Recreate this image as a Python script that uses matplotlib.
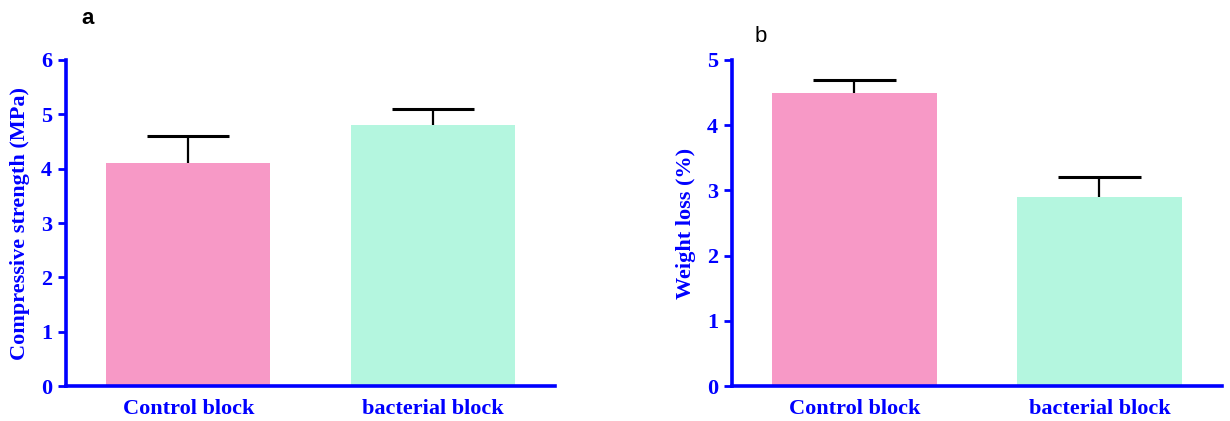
import matplotlib
matplotlib.use("Agg")
import matplotlib.pyplot as plt

categories = ["Control block", "bacterial block"]
strength_mean = [4.1, 4.8]
strength_err = [0.5, 0.3]
loss_mean = [4.5, 2.9]
loss_err = [0.2, 0.3]
bar_colors = ["#F799C6", "#B4F6DF"]

BLUE = "#0000FF"
serif = ["Liberation Serif", "DejaVu Serif"]
BAR_W = 0.67

fig = plt.figure(figsize=(12.3, 4.21), dpi=100)
ax_a = fig.add_axes([0.0537, 0.0831, 0.3976, 0.7744])
ax_b = fig.add_axes([0.5951, 0.0831, 0.3984, 0.7744])


def draw_panel(ax, means, errs, ymax, ylabel):
    x = list(range(len(categories)))
    ax.bar(x, means, width=BAR_W, color=bar_colors, zorder=2)
    # upper-only error bars: stem from bar top, cap half the bar width
    tops = [m + e for m, e in zip(means, errs)]
    ax.vlines(x, means, tops, color="black", linewidth=1.6, zorder=1)
    ax.hlines(tops, [xi - BAR_W / 4 for xi in x], [xi + BAR_W / 4 for xi in x],
              color="black", linewidth=2.2, zorder=1)
    ax.set_xlim(-0.5, 1.5)
    ax.set_ylim(0, ymax)
    ax.set_yticks(range(0, ymax + 1))
    ax.set_xticks(x)
    ax.set_xticklabels(categories)
    for side in ("top", "right"):
        ax.spines[side].set_visible(False)
    for side in ("left", "bottom"):
        ax.spines[side].set_color(BLUE)
        ax.spines[side].set_linewidth(2.6)
    ax.tick_params(axis="y", direction="out", length=6, width=2, color=BLUE,
                   labelcolor=BLUE, pad=4)
    ax.tick_params(axis="x", length=0, labelcolor=BLUE, pad=9)
    for lab in ax.get_yticklabels() + ax.get_xticklabels():
        lab.set_family(serif)
        lab.set_fontweight("bold")
        lab.set_fontsize(16)
    ax.set_ylabel(ylabel, family=serif, fontweight="bold", fontsize=16,
                  color=BLUE, labelpad=8)


draw_panel(ax_a, strength_mean, strength_err, 6, "Compressive strength (MPa)")
draw_panel(ax_b, loss_mean, loss_err, 5, "Weight loss (%)")

fig.text(88 / 1230, 1 - 19 / 421, "a", fontsize=16, fontweight="bold",
         family="Liberation Sans", ha="center", va="center")
fig.text(761 / 1230, 1 - 37 / 421, "b", fontsize=16,
         family="Liberation Sans", ha="center", va="center")

fig.savefig("out.png", dpi=100)
